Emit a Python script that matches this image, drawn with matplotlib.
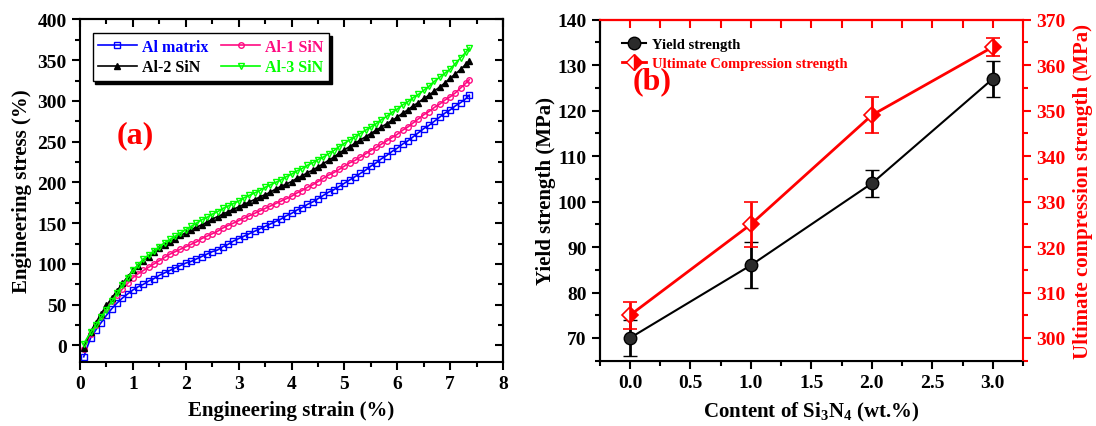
import matplotlib
matplotlib.use("Agg")
import matplotlib.pyplot as plt
from matplotlib.lines import Line2D
from matplotlib.ticker import MultipleLocator, NullFormatter

plt.rcParams["font.family"] = ["Liberation Serif", "DejaVu Serif"]
plt.rcParams["font.weight"] = "bold"
plt.rcParams["axes.labelweight"] = "bold"
plt.rcParams["mathtext.fontset"] = "custom"
plt.rcParams["mathtext.rm"] = "Liberation Serif:bold"
plt.rcParams["mathtext.bf"] = "Liberation Serif:bold"
plt.rcParams["mathtext.it"] = "Liberation Serif:bold"

# (a) stress-strain curves
strain = [0.07, 0.2, 0.3, 0.4, 0.5, 0.6, 0.7, 0.8, 0.9, 1.0,
          1.1, 1.2, 1.3, 1.4, 1.5, 1.6, 1.7, 1.8, 1.9, 2.0,
          2.1, 2.2, 2.3, 2.4, 2.5, 2.6, 2.7, 2.8, 2.9, 3.0,
          3.1, 3.2, 3.3, 3.4, 3.5, 3.6, 3.7, 3.8, 3.9, 4.0,
          4.1, 4.2, 4.3, 4.4, 4.5, 4.6, 4.7, 4.8, 4.9, 5.0,
          5.1, 5.2, 5.3, 5.4, 5.5, 5.6, 5.7, 5.8, 5.9, 6.0,
          6.1, 6.2, 6.3, 6.4, 6.5, 6.6, 6.7, 6.8, 6.9, 7.0,
          7.1, 7.2, 7.3, 7.36]
stress_al = [-14, 9, 19, 28, 37, 45, 52, 58, 63, 68,
             72, 75, 79, 82, 86, 89, 92, 95, 98, 101,
             103, 106, 109, 112, 115, 117, 121, 124, 128, 131,
             134, 137, 140, 143, 146, 149, 152, 155, 159, 162,
             166, 169, 173, 176, 180, 184, 188, 191, 195, 199,
             203, 207, 211, 215, 220, 224, 229, 233, 238, 242,
             247, 251, 256, 261, 266, 270, 275, 280, 285, 289,
             294, 298, 303, 307]
stress_al1 = [-5, 14, 25, 36, 46, 55, 62, 69, 76, 83,
              88, 92, 96, 100, 104, 108, 112, 115, 118, 121,
              124, 127, 131, 134, 137, 140, 144, 147, 150, 153,
              156, 159, 162, 165, 168, 171, 174, 177, 180, 183,
              187, 190, 194, 197, 201, 205, 209, 212, 216, 220,
              224, 227, 231, 235, 239, 243, 247, 251, 255, 259,
              264, 268, 273, 278, 283, 287, 292, 296, 301, 305,
              310, 316, 322, 326]
stress_al2 = [-3, 17, 28, 39, 49, 58, 67, 76, 84, 92,
              98, 104, 109, 114, 119, 123, 127, 131, 135, 138,
              142, 145, 148, 151, 155, 158, 161, 164, 167, 170,
              173, 176, 179, 182, 185, 188, 192, 195, 198, 201,
              205, 208, 212, 215, 219, 223, 227, 231, 236, 240,
              244, 248, 252, 256, 260, 264, 268, 272, 276, 280,
              285, 289, 294, 298, 303, 307, 312, 317, 322, 328,
              333, 339, 345, 349]
stress_al3 = [2, 16, 25, 35, 44, 54, 64, 74, 83, 92,
              99, 106, 111, 116, 121, 126, 130, 134, 138, 142,
              146, 150, 154, 157, 161, 164, 168, 171, 174, 177,
              181, 184, 187, 190, 194, 197, 200, 203, 207, 210,
              214, 217, 221, 224, 228, 231, 235, 239, 244, 248,
              252, 256, 260, 264, 268, 272, 277, 281, 286, 290,
              295, 299, 304, 308, 313, 318, 324, 329, 334, 339,
              346, 353, 360, 365]

# (b) strength vs Si3N4 content
content = [0.0, 1.0, 2.0, 3.0]
yield_mpa = [70, 86, 104, 127]
yield_err = [4, 5, 3, 4]
ucs_mpa = [305, 325, 349, 364]
ucs_err = [3, 5, 4, 2]

TICK = 14
LABEL = 15

fig = plt.figure(figsize=(10.96, 4.27), dpi=100)

# ---------------- panel (a) ----------------
ax = fig.add_axes([0.073, 0.1506, 0.386, 0.8016])
series = [
    (stress_al, "Al matrix", "#0000ff", "s", "none"),
    (stress_al1, "Al-1 SiN", "#ff0a82", "o", "none"),
    (stress_al2, "Al-2 SiN", "black", "^", "black"),
    (stress_al3, "Al-3 SiN", "#00ff00", "v", "none"),
]
lines = {}
for ys, name, col, mk, fc in series:
    (ln,) = ax.plot(strain, ys, color=col, lw=1.2, marker=mk, ms=4, mfc=fc,
                    mec=col, mew=1.0, label=name)
    lines[name] = (ln, col)

ax.set_xlim(0, 8)
ax.set_ylim(-20, 400)
ax.xaxis.set_major_locator(MultipleLocator(1))
ax.xaxis.set_minor_locator(MultipleLocator(0.5))
ax.yaxis.set_major_locator(MultipleLocator(50))
ax.yaxis.set_minor_locator(MultipleLocator(25))
ax.tick_params(which="both", direction="out", width=1.5, labelsize=TICK,
               top=False, right=False)
ax.tick_params(which="major", length=6)
ax.tick_params(which="minor", length=3.5)
for sp in ax.spines.values():
    sp.set_linewidth(1.5)

secx = ax.secondary_xaxis("top")
secx.xaxis.set_major_locator(MultipleLocator(1))
secx.xaxis.set_minor_locator(MultipleLocator(0.5))
secx.xaxis.set_major_formatter(NullFormatter())
secx.tick_params(which="both", direction="in", width=1.5)
secx.tick_params(which="major", length=6)
secx.tick_params(which="minor", length=3.5)
secx.spines["top"].set_linewidth(1.5)
secy = ax.secondary_yaxis("right")
secy.yaxis.set_major_locator(MultipleLocator(50))
secy.yaxis.set_minor_locator(MultipleLocator(25))
secy.yaxis.set_major_formatter(NullFormatter())
secy.tick_params(which="both", direction="in", width=1.5)
secy.tick_params(which="major", length=6)
secy.tick_params(which="minor", length=3.5)
secy.spines["right"].set_linewidth(1.5)

ax.set_xlabel("Engineering strain (%)", fontsize=LABEL)
ax.set_ylabel("Engineering stress (%)", fontsize=LABEL)
ax.xaxis.set_label_coords(0.5, -0.112)
ax.yaxis.set_label_coords(-0.113, 0.5)

# two columns: row 1 Al matrix / Al-1, row 2 Al-2 / Al-3
order = ["Al matrix", "Al-2 SiN", "Al-1 SiN", "Al-3 SiN"]
leg = ax.legend([lines[n][0] for n in order], order,
                loc="upper left", bbox_to_anchor=(0.03, 0.96), ncol=2,
                fontsize=11.5, numpoints=1, handlelength=2.4,
                handletextpad=0.35, columnspacing=0.8, labelspacing=0.3,
                borderaxespad=0, borderpad=0.35, fancybox=False,
                shadow={"color": "black", "alpha": 1.0}, framealpha=1)
leg.get_frame().set_edgecolor("black")
leg.get_frame().set_linewidth(1.0)
for txt, n in zip(leg.get_texts(), order):
    txt.set_color(lines[n][1])

ax.text(1.05, 259, "(a)", color="red", fontsize=23, ha="center", va="center")

# ---------------- panel (b) ----------------
bx = fig.add_axes([0.5472, 0.1529, 0.3862, 0.7986])
bx.errorbar(content, yield_mpa, yerr=yield_err, color="black", lw=1.5,
            marker="o", ms=9, mfc="#2b2b2b", mec="black", mew=1.0,
            elinewidth=2, capsize=5, capthick=2, zorder=3)
bx.set_xlim(-0.25, 3.25)
bx.set_ylim(65, 140)
bx.xaxis.set_major_locator(MultipleLocator(0.5))
bx.xaxis.set_minor_locator(MultipleLocator(0.25))
bx.yaxis.set_major_locator(MultipleLocator(10))
bx.yaxis.set_minor_locator(MultipleLocator(5))
bx.xaxis.set_major_formatter(plt.FuncFormatter(lambda v, p: f"{v:.1f}"))
bx.tick_params(which="both", direction="out", width=1.5, labelsize=TICK,
               top=False, right=False)
bx.tick_params(which="major", length=6)
bx.tick_params(which="minor", length=3.5)
bx.spines["left"].set_linewidth(1.5)
bx.spines["bottom"].set_linewidth(1.5)
bx.spines["top"].set_color("red")
bx.spines["top"].set_linewidth(1.5)
bx.spines["right"].set_visible(False)

btop = bx.secondary_xaxis("top")
btop.xaxis.set_major_locator(MultipleLocator(0.5))
btop.xaxis.set_minor_locator(MultipleLocator(0.25))
btop.xaxis.set_major_formatter(NullFormatter())
btop.tick_params(which="both", direction="in", width=1.5, length=6,
                 color="red")
btop.spines["top"].set_color("red")
btop.spines["top"].set_linewidth(1.5)

bx2 = bx.twinx()
bx2.errorbar(content, ucs_mpa, yerr=ucs_err, color="red", lw=2,
             marker="D", ms=8.5, fillstyle="right", mfc="red",
             markerfacecoloralt="white", mec="red", mew=1.2,
             elinewidth=2, capsize=5, capthick=2, zorder=3)
bx2.set_ylim(295, 370)
bx2.yaxis.set_major_locator(MultipleLocator(10))
bx2.yaxis.set_minor_locator(MultipleLocator(5))
bx2.tick_params(which="both", direction="out", width=1.5, labelsize=TICK,
                color="red", labelcolor="red")
bx2.tick_params(which="major", length=6)
bx2.tick_params(which="minor", length=3.5)
bx2.spines["right"].set_color("red")
bx2.spines["right"].set_linewidth(1.5)
bx2.spines["top"].set_color("red")
bx2.spines["top"].set_linewidth(1.5)
bx2.spines["left"].set_linewidth(1.5)

bx.set_xlabel(r"Content of Si$_{\mathbf{3}}$N$_{\mathbf{4}}$ (wt.%)",
              fontsize=LABEL)
bx.set_ylabel("Yield strength (MPa)", fontsize=LABEL)
bx2.set_ylabel("Ultimate compression strength (MPa)", fontsize=LABEL,
               color="red")
bx.xaxis.set_label_coords(0.5, -0.115)
bx.yaxis.set_label_coords(-0.103, 0.5)
bx2.yaxis.set_label_coords(1.118, 0.5)

handles = [
    Line2D([], [], color="black", lw=1.5, marker="o", ms=9, mfc="#2b2b2b",
           mec="black"),
    Line2D([], [], color="red", lw=2, marker="D", ms=8, fillstyle="right",
           mfc="red", markerfacecoloralt="white", mec="red"),
]
leg2 = bx2.legend(handles, ["Yield strength", "Ultimate Compression strength"],
                  loc="upper left", bbox_to_anchor=(0.04, 0.963),
                  frameon=False, fontsize=10.5, handlelength=1.6,
                  handletextpad=0.4, labelspacing=0.35, borderaxespad=0)
leg2.get_texts()[0].set_color("black")
leg2.get_texts()[1].set_color("red")

bx2.text(0.18, 356.5, "(b)", color="red", fontsize=23, ha="center",
         va="center")

fig.savefig("out.png", dpi=100)
